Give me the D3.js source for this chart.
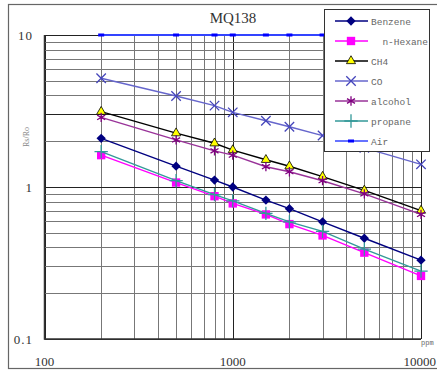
<!DOCTYPE html>
<html>
<head>
<meta charset="utf-8">
<script src="https://cdn.jsdelivr.net/npm/d3@7"></script>
<style>
	body { margin: 0; background: #fff; }
</style>
</head>
<body>
<div id="chart" style="width:437px;height:370px;"></div>
<script>
// ###
// DATA
// ###

const ppm = [200, 500, 800, 1000, 1500, 2000, 3000, 5000, 10000];

const benzene = [2.09, 1.37, 1.11, 1.00, 0.82, 0.72, 0.59, 0.46, 0.33];
const nHexane = [1.62, 1.07, 0.87, 0.78, 0.66, 0.57, 0.48, 0.37, 0.26];
const ch4     = [3.13, 2.26, 1.94, 1.75, 1.51, 1.37, 1.17, 0.95, 0.70];
const co      = [5.19, 3.97, 3.43, 3.10, 2.73, 2.49, 2.18, 1.81, 1.41];
const alcohol = [2.87, 2.04, 1.73, 1.62, 1.36, 1.26, 1.10, 0.90, 0.66];
const propane = [1.71, 1.10, 0.89, 0.81, 0.67, 0.59, 0.51, 0.39, 0.28];
const air     = [10, 10, 10, 10, 10, 10, 10, 10, 10];

const seriesNames = ['Benzene', '  n-Hexane', 'CH4', 'CO', 'alcohol', 'propane', 'Air'];
const xTickLabels = [100, 1000, 10000];
const yTickLabels = [0.1, 1, 10];
const title = 'MQ138';

const series = [
	{name: seriesNames[0], values: benzene, color: '#000080', sym: d3.symbolDiamond2, size: 55, fill: '#000080', stroke: 'none'},
	{name: seriesNames[1], values: nHexane, color: '#ff00ff', sym: d3.symbolSquare, size: 70, fill: '#ff00ff', stroke: 'none'},
	{name: seriesNames[2], values: ch4, color: '#000000', sym: d3.symbolTriangle, size: 36, fill: '#ffff00', stroke: '#000'},
	{name: seriesNames[3], values: co, color: '#6666cc', sym: d3.symbolTimes, size: 60, fill: 'none', stroke: '#4444bb'},
	{name: seriesNames[4], values: alcohol, color: '#993399', sym: d3.symbolAsterisk, size: 60, fill: 'none', stroke: '#800080'},
	{name: seriesNames[5], values: propane, color: '#339999', sym: d3.symbolPlus, size: 60, fill: 'none', stroke: '#339999'},
	{name: seriesNames[6], values: air, color: '#3344ff', sym: null, size: 0, fill: '#0000ff', stroke: 'none'}
];

const serif = '"Liberation Serif", "DejaVu Serif", serif';
const mono = '"Liberation Mono", "DejaVu Sans Mono", monospace';

// ###
// SVG, SCALES
// ###

const width = 437, height = 370;

const svg = d3.select('#chart').append('svg')
	.attr('width', width)
	.attr('height', height);

const x = d3.scaleLog()
	.domain([100, 10000])
	.range([44.5, 421]);

const y = d3.scaleLog()
	.domain([0.1, 10])
	.range([339, 35]);

// outer frame
svg.append('rect')
	.attr('x', 8.5).attr('y', 4.5)
	.attr('width', 440).attr('height', 364)
	.attr('fill', 'none')
	.attr('stroke', '#666')
	.attr('stroke-width', 1.2);

svg.append('text')
	.attr('x', 233).attr('y', 23)
	.attr('text-anchor', 'middle')
	.attr('font-size', 15)
	.style('font-family', serif)
	.attr('fill', '#333')
	.text(title);

// ###
// GRID
// ###

const isMajor = v => Math.abs(Math.log10(v) - Math.round(Math.log10(v))) < 1e-6;

const grid = svg.append('g').attr('class', 'grid');

grid.selectAll('line.vx')
	.data(x.ticks())
	.join('line')
	.attr('x1', d => Math.round(x(d)) + 0.5)
	.attr('x2', d => Math.round(x(d)) + 0.5)
	.attr('y1', y(10))
	.attr('y2', y(0.1))
	.attr('stroke', d => isMajor(d) ? '#222' : '#777')
	.attr('stroke-width', 1);

grid.selectAll('line.hy')
	.data(y.ticks())
	.join('line')
	.attr('y1', d => Math.round(y(d)) + 0.5)
	.attr('y2', d => Math.round(y(d)) + 0.5)
	.attr('x1', x(100))
	.attr('x2', x(10000))
	.attr('stroke', d => (isMajor(d) || Math.abs(d - 3) < 1e-6) ? '#222' : '#777')
	.attr('stroke-width', 1);

// axis frame left + bottom
svg.append('path')
	.attr('d', `M${x(100)},${y(10)}V${y(0.1)}H${x(10000)}`)
	.attr('fill', 'none')
	.attr('stroke', '#333')
	.attr('stroke-width', 1.5);

// ###
// TICK LABELS
// ###

svg.selectAll('text.xl')
	.data(xTickLabels)
	.join('text')
	.attr('x', (d, i) => i === xTickLabels.length - 1 ? 436 : x(d))
	.attr('y', 366)
	.attr('text-anchor', (d, i) => i === xTickLabels.length - 1 ? 'end' : 'middle')
	.attr('font-size', 13)
	.style('font-family', serif)
	.attr('fill', '#333')
	.text(d => d);

svg.selectAll('text.yl')
	.data(yTickLabels)
	.join('text')
	.attr('x', 33)
	.attr('y', d => y(d) + 5)
	.attr('text-anchor', 'end')
	.attr('font-size', 13)
	.style('font-family', serif)
	.attr('letter-spacing', 1)
	.attr('fill', '#333')
	.text(d => d);

svg.append('text')
	.attr('x', 421).attr('y', 345)
	.attr('font-size', 7)
	.style('font-family', mono)
	.attr('fill', '#666')
	.text('ppm');

svg.append('text')
	.attr('transform', 'translate(29,137) rotate(-90)')
	.attr('text-anchor', 'middle')
	.attr('font-size', 8)
	.style('font-family', serif)
	.attr('fill', '#888')
	.text('Rs/Ro');

// ###
// LINES + MARKERS
// ###

const line = d3.line()
	.x((d, i) => x(ppm[i]))
	.y(d => y(d));

const marker = (sel, s) => {
	if (s.sym) {
		sel.append('path')
			.attr('d', d3.symbol().type(s.sym).size(s.size))
			.attr('fill', s.fill)
			.attr('stroke', s.stroke)
			.attr('stroke-width', s.sym === d3.symbolTriangle ? 0.8 : 1.3);
	} else {
		sel.append('rect')
			.attr('x', -3).attr('y', -1.5)
			.attr('width', 6).attr('height', 3)
			.attr('fill', s.fill);
	}
};

const plot = svg.append('g').attr('class', 'series');

series.forEach(s => {
	const g = plot.append('g');
	g.append('path')
		.datum(s.values)
		.attr('d', line)
		.attr('fill', 'none')
		.attr('stroke', s.color)
		.attr('stroke-width', s.sym ? 1.4 : 2);
	g.selectAll('g.pt')
		.data(s.values)
		.join('g')
		.attr('transform', (d, i) => `translate(${x(ppm[i])},${y(d)})`)
		.each(function() { marker(d3.select(this), s); });
});

// ###
// LEGEND
// ###

const legend = svg.append('g').attr('class', 'legend');

legend.append('rect')
	.attr('x', 324.5).attr('y', 9.5)
	.attr('width', 105).attr('height', 142)
	.attr('fill', '#fff')
	.attr('stroke', '#333')
	.attr('stroke-width', 1);

series.forEach((s, i) => {
	const ly = 21 + i * 20;
	const row = legend.append('g');
	row.append('line')
		.attr('x1', 335).attr('x2', 368)
		.attr('y1', ly).attr('y2', ly)
		.attr('stroke', s.color)
		.attr('stroke-width', 1.4);
	marker(row.append('g').attr('transform', `translate(351,${ly})`), s);
	row.append('text')
		.attr('x', 371)
		.attr('y', ly + 3.5)
		.attr('font-size', 9.5)
		.style('font-family', mono)
		.attr('fill', '#666')
		.style('white-space', 'pre')
		.text(s.name);
});
</script>
</body>
</html>
